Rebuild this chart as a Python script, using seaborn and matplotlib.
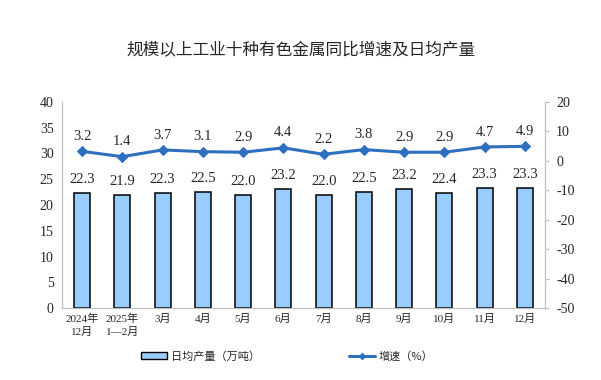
"""Daily output and growth rate of ten non-ferrous metals."""

import matplotlib.pyplot as plt
import numpy as np
import pandas as pd
import seaborn as sns
from matplotlib.lines import Line2D
from matplotlib.patches import Patch

months = ["2024年\n12月", "2025年\n1—2月", "3月", "4月", "5月", "6月",
          "7月", "8月", "9月", "10月", "11月", "12月"]
daily_output = [22.3, 21.9, 22.3, 22.5, 22.0, 23.2, 22.0, 22.5, 23.2, 22.4, 23.3, 23.3]
growth = [3.2, 1.4, 3.7, 3.1, 2.9, 4.4, 2.2, 3.8, 2.9, 2.9, 4.7, 4.9]

BAR_COLOR = "#99CCFF"
LINE_COLOR = "#2F6FBF"
SPINE_COLOR = "#BFBFBF"

sns.set_style("white")
plt.rcParams["font.family"] = ["Liberation Serif", "Noto Sans CJK SC"]
plt.rcParams["axes.unicode_minus"] = False

df = pd.DataFrame({"month": months, "output": daily_output, "growth": growth})

fig = plt.figure(figsize=(6.01, 3.80), dpi=100)
ax = fig.add_axes([0.103, 0.189, 0.804, 0.543])

sns.barplot(data=df, x="month", y="output", ax=ax, color=BAR_COLOR,
            edgecolor="black", linewidth=1.1, width=0.4, saturation=1)
ax.set_ylim(0, 40)
ax.set_yticks(range(0, 41, 5))
ax.set_xlabel("")
ax.set_ylabel("")
for i, v in enumerate(daily_output):
    ax.annotate(f"{v:.1f}", (i, v), xytext=(0, 5), textcoords="offset points",
                ha="center", va="bottom", fontsize=10.5)

ax2 = ax.twinx()
x_pos = np.arange(len(months))
sns.lineplot(x=x_pos, y=growth, ax=ax2, color=LINE_COLOR, linewidth=2.2,
             marker="D", markersize=5, markeredgecolor=LINE_COLOR)
ax2.set_ylim(-50, 20)
ax2.set_yticks(range(-50, 21, 10))
for i, v in enumerate(growth):
    ax2.annotate(f"{v:.1f}", (i, v), xytext=(0, 6), textcoords="offset points",
                 ha="center", va="bottom", fontsize=10.5)
ax.set_xlim(-0.5, len(months) - 0.5)

# axes styling
for a in (ax, ax2):
    a.spines["top"].set_visible(False)
    a.spines["left"].set_color(SPINE_COLOR)
    a.spines["right"].set_color(SPINE_COLOR)
    a.spines["bottom"].set_color(SPINE_COLOR)
    a.grid(False)
ax.tick_params(axis="y", length=0, labelsize=10, pad=6)
ax2.tick_params(axis="y", length=3, color=SPINE_COLOR, labelsize=10, pad=5)
ax.set_xticks(x_pos)
ax.set_xticklabels(months, fontsize=8, linespacing=1.4)
ax.set_xticks(np.arange(-0.5, len(months), 1), minor=True)
ax.tick_params(axis="x", which="major", length=0, pad=4)
ax.tick_params(axis="x", which="minor", length=4, color=SPINE_COLOR)

fig.suptitle("规模以上工业十种有色金属同比增速及日均产量", y=0.89,
             fontsize=12, family=["Noto Sans CJK SC"])

handles = [Patch(facecolor=BAR_COLOR, edgecolor="black", linewidth=1),
           Line2D([], [], color=LINE_COLOR, linewidth=2.2, marker="D", markersize=3)]
fig.legend(handles, ["日均产量（万吨）", "增速（%）"], loc="center",
           bbox_to_anchor=(0.478, 0.063), ncol=2, frameon=False,
           columnspacing=8, handlelength=2.35, handleheight=0.5,
           handletextpad=0.35, prop={"family": ["Noto Sans CJK SC"], "size": 8})

fig.savefig("out.png", dpi=100)
